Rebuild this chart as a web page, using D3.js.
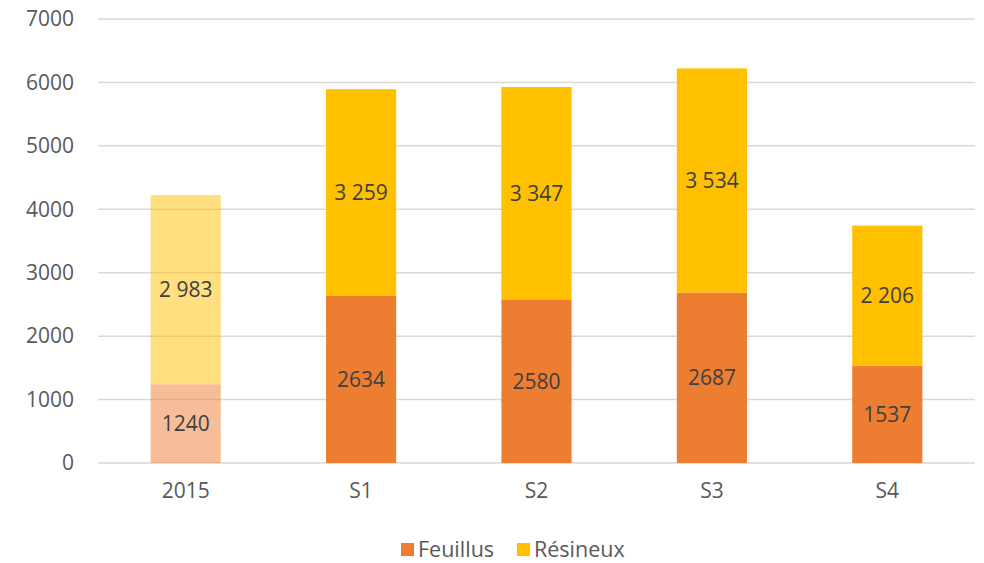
<!DOCTYPE html>
<html>
<head>
<meta charset="utf-8">
<script src="https://cdn.jsdelivr.net/npm/d3@7"></script>
<style>
  html, body { margin: 0; padding: 0; background: #fff; }
  svg { display: block; font-family: "Open Sans", Lato, sans-serif; }
</style>
</head>
<body>
<svg id="chart" width="984" height="563"></svg>
<script>
// Volumes by scenario, split between hardwoods and softwoods
const categories = ["2015", "S1", "S2", "S3", "S4"];
const feuillus = [1240, 2634, 2580, 2687, 1537];
const resineux = [2983, 3259, 3347, 3534, 2206];
const seriesNames = ["Feuillus", "Résineux"];
const yTicks = [0, 1000, 2000, 3000, 4000, 5000, 6000, 7000];

const colors = { "Feuillus": "#ED7D31", "Résineux": "#FFC000" };

const svg = d3.select("#chart");
const margin = { left: 98, right: 9, top: 19, bottom: 100 };
const width = 984, height = 563;

const x = d3.scaleBand()
  .domain(categories)
  .range([margin.left, width - margin.right])
  .paddingInner(0.6)
  .paddingOuter(0.3);

const y = d3.scaleLinear()
  .domain([0, 7000])
  .range([height - margin.bottom, margin.top]);

// gridlines
svg.append("g")
  .selectAll("line")
  .data(yTicks)
  .join("line")
  .attr("x1", margin.left)
  .attr("x2", width - margin.right)
  .attr("y1", d => y(d))
  .attr("y2", d => y(d))
  .attr("stroke", "#d9d9d9")
  .attr("stroke-width", 1.5);

// y axis labels
const yAxis = d3.axisLeft(y).tickValues(yTicks).tickSize(0).tickPadding(0).tickFormat(d3.format("d"));
svg.append("g")
  .attr("transform", `translate(${74},0)`)
  .call(yAxis)
  .call(g => g.select(".domain").remove())
  .call(g => g.selectAll("text")
    .attr("fill", "#595959")
    .attr("font-size", "21px")
    .attr("font-family", "'Open Sans', Lato, sans-serif"));

// x axis labels
const xAxis = d3.axisBottom(x).tickSize(0).tickPadding(0);
svg.append("g")
  .attr("transform", `translate(0,${y(0) + 20})`)
  .call(xAxis)
  .call(g => g.select(".domain").remove())
  .call(g => g.selectAll("text")
    .attr("fill", "#595959")
    .attr("font-size", "21px")
    .attr("font-family", "'Open Sans', Lato, sans-serif"));

// stacked data
const rows = categories.map((c, i) => ({ cat: c, "Feuillus": feuillus[i], "Résineux": resineux[i] }));
const stacked = d3.stack().keys(seriesNames)(rows);

const fmtSpace = v => d3.format(",")(v).replace(/,/g, " ");

const layers = svg.append("g")
  .selectAll("g")
  .data(stacked)
  .join("g")
  .attr("fill", d => colors[d.key]);

layers.selectAll("rect")
  .data(d => d)
  .join("rect")
  .attr("x", d => x(d.data.cat))
  .attr("width", x.bandwidth())
  .attr("y", d => y(d[1]))
  .attr("height", d => y(d[0]) - y(d[1]))
  .attr("fill-opacity", d => d.data.cat === "2015" ? 0.5 : 1);

// value labels centred in each segment
layers.each(function(layer) {
  d3.select(this).selectAll("text")
    .data(layer)
    .join("text")
    .attr("x", d => x(d.data.cat) + x.bandwidth() / 2)
    .attr("y", d => y((d[0] + d[1]) / 2))
    .attr("dy", "0.36em")
    .attr("text-anchor", "middle")
    .attr("fill", "#404040")
    .attr("font-size", "21px")
    .text(d => layer.key === "Résineux" ? fmtSpace(d.data[layer.key]) : String(d.data[layer.key]));
});

// legend
const legendItems = [
  { name: "Feuillus", sx: 401, tx: 418 },
  { name: "Résineux", sx: 517, tx: 534 }
];
const legend = svg.append("g");
legendItems.forEach(it => {
  legend.append("rect")
    .attr("x", it.sx).attr("y", 543)
    .attr("width", 13).attr("height", 13)
    .attr("fill", colors[it.name]);
  legend.append("text")
    .attr("x", it.tx).attr("y", 549.5)
    .attr("dy", "0.36em")
    .attr("fill", "#595959")
    .attr("font-size", "21.5px")
    .text(it.name);
});
</script>
</body>
</html>
